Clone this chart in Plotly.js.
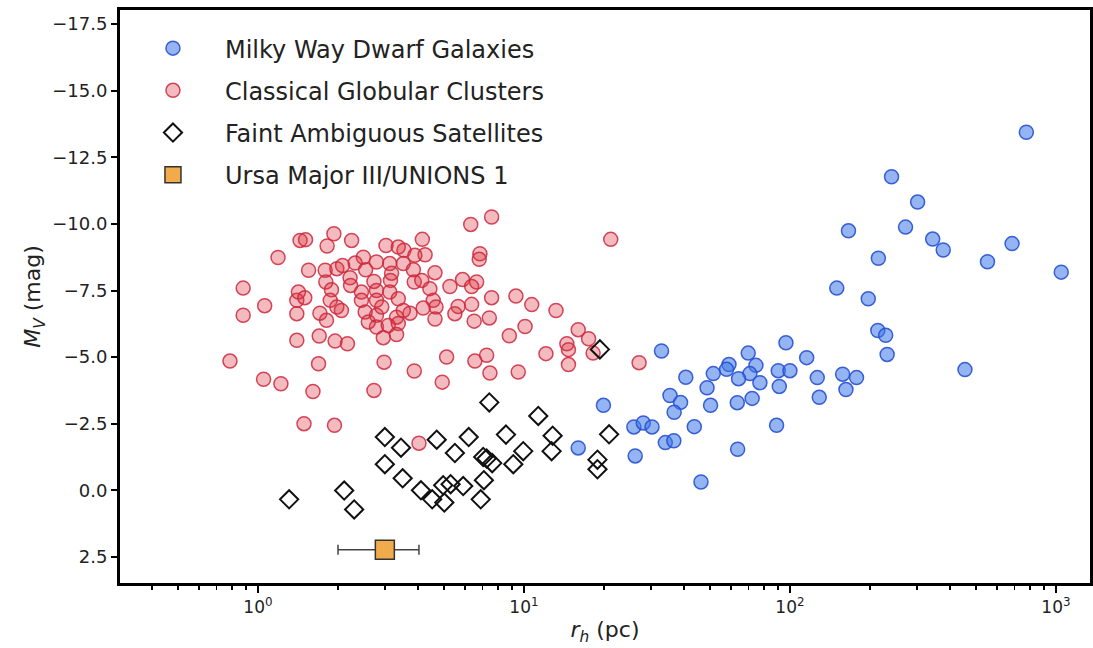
<!DOCTYPE html>
<html>
<head>
<meta charset="utf-8">
<script src="https://cdn.plot.ly/plotly-3.0.1.min.js"></script>
<style>html,body{margin:0;padding:0;background:#fff;}#chart{width:1093px;height:648px;}</style>
</head>
<body>
<div id="chart"></div>
<script>
// Series names
const seriesNames = ["Milky Way Dwarf Galaxies", "Classical Globular Clusters", "Faint Ambiguous Satellites", "Ursa Major III/UNIONS 1"];

// Milky Way dwarf galaxies: half-light radius (pc), M_V (mag)
const dwarfR = [774, 241, 302, 166, 272, 344, 377, 684, 553, 1047, 215, 150, 197, 214, 229, 232, 455,
  32.9, 96.6, 115.6, 69.7, 74.5, 59.0, 57.8, 70.7, 64.1, 77.1, 90.4, 100, 91.2, 126.7, 157.8, 178, 162.4, 128.9,
  51.5, 48.8, 40.6, 35.4, 38.8, 36.7, 50.3, 63.4, 72.1, 89.1, 43.7, 63.6, 46.3, 34.0, 36.6, 25.9, 28.1, 30.3, 26.2, 19.9, 16.0];
const dwarfMV = [-13.44, -11.77, -10.82, -9.74, -9.88, -9.43, -9.02, -9.26, -8.58, -8.19, -8.71, -7.59, -7.19, -6.00, -5.82, -5.10, -4.53,
  -5.23, -5.54, -4.98, -5.15, -4.69, -4.72, -4.54, -4.38, -4.19, -4.04, -4.49, -4.49, -3.90, -4.23, -4.36, -4.23, -3.78, -3.49,
  -4.38, -3.85, -4.24, -3.56, -3.30, -2.93, -3.19, -3.29, -3.45, -2.44, -2.39, -1.54, -0.31, -1.79, -1.86, -2.38, -2.53, -2.38, -1.29, -3.19, -1.59];

// Classical globular clusters
const gcR = [0.785, 0.880, 0.880, 1.06, 1.19, 1.05, 1.22, 1.40, 1.40, 1.40, 1.42, 1.44, 1.49, 1.93, 1.51, 1.82, 2.25, 3.03, 3.37, 3.54,
  4.15, 4.25, 3.89, 6.31, 7.56, 6.83, 6.79, 21.2, 2.49, 2.32, 2.79, 3.13, 3.52, 3.84, 1.55, 1.79, 1.98, 2.08, 2.54, 3.18,
  4.63, 2.22, 2.73, 3.15, 3.87, 4.13, 1.80, 5.27, 5.88, 6.64, 6.36, 1.89, 2.23, 2.45, 2.79, 3.13, 4.43, 7.56, 9.33, 1.50,
  1.87, 2.45, 3.37, 4.56, 10.7, 1.71, 1.98, 2.06, 1.81, 2.53, 2.79, 3.32, 3.73, 4.18, 4.67, 5.66, 6.36, 5.50, 13.2, 2.60,
  2.79, 3.09, 3.37, 4.63, 6.50, 7.41, 10.1, 8.81, 16.0, 17.5, 14.5, 14.7, 18.2, 1.70, 1.95, 2.17, 2.96, 3.32, 12.1, 14.7,
  27.1, 1.69, 2.98, 3.87, 5.12, 6.54, 7.24, 7.45, 9.52, 4.93, 1.61, 2.73, 1.94, 4.03, 2.79, 3.52, 2.92];
const gcMV = [-4.85, -7.59, -6.57, -6.93, -8.74, -4.17, -4.00, -5.63, -6.63, -7.13, -7.44, -9.38, -2.50, -9.63, -9.41, -9.17, -9.38, -9.19, -9.13, -9.01,
  -9.42, -8.84, -8.82, -9.98, -10.26, -8.88, -8.67, -9.42, -8.75, -8.53, -8.57, -8.51, -8.51, -8.28, -8.26, -8.26, -8.32, -8.44, -8.28, -8.15,
  -8.17, -7.98, -7.84, -7.88, -7.82, -7.88, -7.82, -7.65, -7.91, -7.82, -7.65, -7.53, -7.69, -7.44, -7.50, -7.44, -7.57, -7.23, -7.29, -7.23,
  -7.13, -7.13, -7.19, -7.13, -6.97, -6.65, -6.88, -6.75, -6.38, -6.69, -6.57, -6.50, -6.65, -6.84, -6.88, -6.90, -6.98, -6.63, -6.75, -6.32,
  -6.13, -6.19, -6.26, -6.43, -6.35, -6.47, -6.15, -5.80, -6.03, -5.69, -5.50, -5.28, -5.15, -5.79, -5.60, -5.50, -5.73, -5.85, -5.13, -4.72,
  -4.79, -4.75, -4.81, -4.48, -5.00, -4.85, -5.07, -4.40, -4.44, -4.06, -3.71, -3.75, -2.44, -1.77, -7.13, -6.75, -6.88];

// Faint ambiguous satellites
const faintR = [1.31, 2.11, 2.30, 3.00, 3.45, 3.00, 3.50, 4.10, 4.52, 5.02, 4.97, 5.30, 5.91, 4.70, 5.50, 6.20,
  7.03, 7.24, 7.60, 7.07, 6.88, 7.41, 8.56, 9.12, 9.94, 11.32, 12.82, 12.71, 19.3, 20.9, 18.9, 18.9];
const faintMV = [0.34, 0.01, 0.72, -2.00, -1.60, -0.98, -0.45, 0.00, 0.34, 0.46, -0.19, -0.23, -0.16, -1.90, -1.40, -2.00,
  -1.25, -1.19, -1.02, -0.38, 0.34, -3.30, -2.09, -0.98, -1.47, -2.79, -2.05, -1.47, -5.29, -2.10, -1.15, -0.79];

// Ursa Major III / UNIONS 1
const umaR = [3.0];
const umaMV = [2.23];
const umaErrPlus = [1.03];
const umaErrMinus = [1.0];

// Axis ticks
const xTickVals = [1, 10, 100, 1000];
const xTickText = ["10<sup>0</sup>", "10<sup>1</sup>", "10<sup>2</sup>", "10<sup>3</sup>"];
const xMinorVals = [0.4, 0.5, 0.6, 0.7, 0.8, 0.9, 2, 3, 4, 5, 6, 7, 8, 9, 20, 30, 40, 50, 60, 70, 80, 90, 200, 300, 400, 500, 600, 700, 800, 900];
const yTickVals = [-17.5, -15.0, -12.5, -10.0, -7.5, -5.0, -2.5, 0.0, 2.5];

const font = "DejaVu Sans, sans-serif";

const traces = [
  {x: dwarfR, y: dwarfMV, name: seriesNames[0], type: "scatter", mode: "markers", legendgroup: "a",
   marker: {symbol: "circle", size: 14, color: "rgba(60,120,230,0.55)", line: {color: "rgba(40,80,210,0.9)", width: 1.5}}},
  {x: gcR, y: gcMV, name: seriesNames[1], type: "scatter", mode: "markers", legendgroup: "b",
   marker: {symbol: "circle", size: 14, color: "rgba(220,50,60,0.33)", line: {color: "rgba(205,40,60,0.85)", width: 1.5}}},
  {x: faintR, y: faintMV, name: seriesNames[2], type: "scatter", mode: "markers", legendgroup: "c",
   marker: {symbol: "diamond-open", size: 14, color: "#111", line: {color: "#111", width: 2}}},
  {x: umaR, y: umaMV, name: seriesNames[3], type: "scatter", mode: "markers", legendgroup: "d",
   error_x: {type: "data", array: umaErrPlus, arrayminus: umaErrMinus, color: "#444", thickness: 1.5, width: 5},
   marker: {symbol: "square", size: 19, color: "#f2ab4a", line: {color: "#333", width: 1.5}}}
];

const layout = {
  width: 1093, height: 648,
  margin: {l: 120, r: 3, t: 10, b: 65},
  paper_bgcolor: "#fff", plot_bgcolor: "#fff",
  font: {family: font, color: "#222", size: 16},
  showlegend: true,
  legend: {x: 0.001, y: 0.972, xanchor: "left", yanchor: "top", bgcolor: "rgba(0,0,0,0)",
    font: {family: font, size: 24, color: "#222"}, tracegroupgap: 8, itemwidth: 94},
  xaxis: {
    type: "log", range: [Math.log10(0.303), Math.log10(1343)],
    tickmode: "array", tickvals: xTickVals, ticktext: xTickText,
    ticks: "outside", ticklen: 7, tickwidth: 2, tickcolor: "#000",
    minor: {tickmode: "array", tickvals: xMinorVals, ticks: "outside", ticklen: 4, tickwidth: 1.5, tickcolor: "#000", showgrid: false},
    showline: true, linewidth: 3, linecolor: "#000", mirror: true,
    showgrid: false, zeroline: false,
    tickfont: {family: font, size: 17, color: "#222"},
    title: {text: "<i>r</i><sub><i>h</i></sub> (pc)", font: {family: font, size: 22, color: "#222"}, standoff: 6}
  },
  yaxis: {
    range: [3.48, -18.03],
    tickmode: "array", tickvals: yTickVals, tickformat: ".1f",
    ticks: "outside", ticklen: 6, tickwidth: 2, tickcolor: "#000",
    showline: true, linewidth: 3, linecolor: "#000", mirror: true,
    showgrid: false, zeroline: false,
    tickfont: {family: font, size: 18, color: "#222"},
    title: {text: "<i>M</i><sub><i>V</i></sub> (mag)", font: {family: font, size: 22, color: "#222"}, standoff: 6}
  }
};

Plotly.newPlot("chart", traces, layout, {displayModeBar: false, staticPlot: true});
</script>
</body>
</html>
